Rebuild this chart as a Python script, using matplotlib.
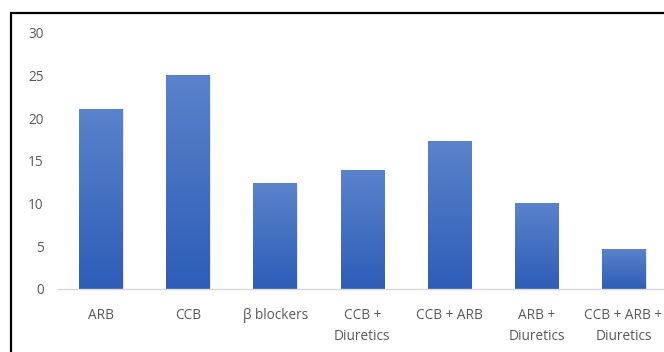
import numpy as np
import matplotlib

matplotlib.use("Agg")
import matplotlib.pyplot as plt
from matplotlib.colors import LinearSegmentedColormap
from matplotlib.patches import Rectangle

categories = ["ARB", "CCB", "β blockers", "CCB +\nDiuretics", "CCB + ARB",
              "ARB +\nDiuretics", "CCB + ARB +\nDiuretics"]
values = [21.1, 25.1, 12.4, 13.9, 17.3, 10.1, 4.7]
yticks = [0, 5, 10, 15, 20, 25, 30]

plt.rcParams["font.family"] = ["Open Sans", "DejaVu Sans"]

fig = plt.figure(figsize=(6.64, 3.52), dpi=100)
ax = fig.add_axes([57.6 / 664, 1 - 289 / 352, (667 - 57.6) / 664, 256 / 352])

# vertical gradient fill, lighter at the top
cmap = LinearSegmentedColormap.from_list("bar", ["#2e5db8", "#5a83cb"])
grad = np.linspace(0, 1, 256).reshape(-1, 1)
width = 0.5
x = np.arange(len(categories))
for xi, v in zip(x, values):
    # soft shadow behind the bar
    ax.add_patch(Rectangle((xi - width / 2 + 0.015, -0.05), width, v,
                           color="#b8b8b8", alpha=0.35, lw=0, zorder=1))
    bar = Rectangle((xi - width / 2, 0), width, v, facecolor="none",
                    edgecolor="none", zorder=2)
    ax.add_patch(bar)
    im = ax.imshow(grad, cmap=cmap, origin="lower", aspect="auto",
                   extent=(xi - width / 2, xi + width / 2, 0, v), zorder=2)
    im.set_clip_path(bar)

ax.set_xlim(-0.5, len(categories) - 0.5)
ax.set_ylim(0, 30)
ax.set_yticks(yticks)
ax.set_xticks(x)
ax.set_xticklabels(categories, linespacing=1.55)

for side in ["top", "right", "left"]:
    ax.spines[side].set_visible(False)
ax.spines["bottom"].set_color("#d9d9d9")
ax.spines["bottom"].set_linewidth(1.0)

ax.tick_params(axis="both", length=0, labelsize=9.8, labelcolor="#595959")
ax.tick_params(axis="y", pad=10)
ax.tick_params(axis="x", pad=14)

# black frame around the chart area
fig.patches.append(Rectangle((11 / 664, -0.1), 1.2, 1 - 13 / 352 + 0.1,
                             transform=fig.transFigure, fill=False,
                             edgecolor="black", lw=1.6, zorder=10))

fig.savefig("out.png", dpi=100)
